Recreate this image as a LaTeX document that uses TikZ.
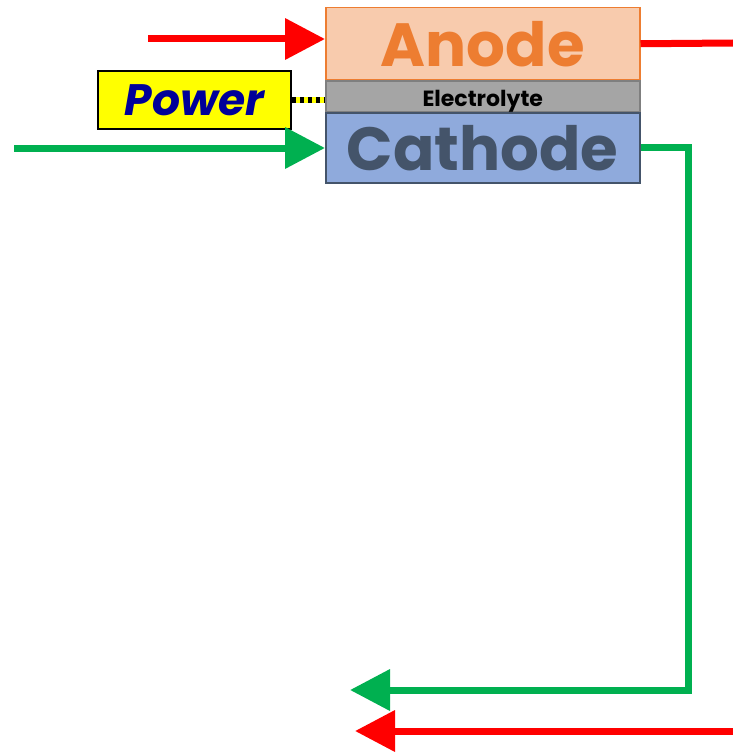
\documentclass[tikz,border=0pt]{standalone}
\usepackage{fontspec}
\setmainfont{Poppins}
\usetikzlibrary{arrows.meta}
\definecolor{anodefill}{HTML}{F8CBAD}
\definecolor{anodeline}{HTML}{ED7D31}
\definecolor{elfill}{HTML}{A5A5A5}
\definecolor{elline}{HTML}{7F7F7F}
\definecolor{catfill}{HTML}{8FAADC}
\definecolor{catline}{HTML}{44546A}
\definecolor{pblue}{HTML}{000099}
\definecolor{gr}{HTML}{00B050}
\definecolor{rd}{HTML}{FF0000}
\definecolor{pyellow}{HTML}{FFFF00}
\begin{document}
\begin{tikzpicture}[x=1pt,y=-1pt,
  layer/.style={draw, line width=1.5pt, inner sep=0pt, minimum width=314pt, anchor=north west},
  flow/.style={line width=7pt},
  tiphead/.style={-{Triangle[length=40pt,width=40pt]}}]
\useasboundingbox (0,0) rectangle (733,752);
\node[layer, fill=anodefill, draw=anodeline, minimum height=72pt, text=anodeline,
  font=\bfseries\fontsize{61}{61}\selectfont] (anode) at (325,7) {Anode};
\node[layer, fill=elfill, draw=elline, minimum height=31pt, text height=24pt, text depth=4pt,
  font=\bfseries\fontsize{22}{22}\selectfont] (elec) at (325,80) {Electrolyte};
\node[layer, fill=catfill, draw=catline, minimum height=70pt, text=catline,
  font=\bfseries\fontsize{61}{61}\selectfont] (cathode) at (325,112) {Cathode};
\node[draw, line width=2pt, fill=pyellow, inner sep=0pt, minimum width=193pt, minimum height=58pt,
  anchor=north west, text=pblue, font=\bfseries\itshape\fontsize{44}{44}\selectfont] (power) at (97,70) {Power};
% dotted link
\draw[pyellow, line width=6pt] (power.east) -- (power.east -| elec.west);
\draw[black, line width=6pt, dash pattern=on 4pt off 4pt] (power.east) -- (power.east -| elec.west);
% red in
\coordinate (rin) at (148,39);
\draw[rd, flow, tiphead] (rin) -- (rin -| anode.west);
% red out
\coordinate (rout) at (733,43);
\draw[rd, flow] (anode.east) -- (rout);
% green in
\coordinate (gin) at (14,148);
\draw[gr, flow, tiphead] (gin) -- (gin -| cathode.west);
% green out
\coordinate (gturn) at (688,690);
\coordinate (gend) at (350,690);
\draw[gr, flow, tiphead] (cathode.east) -- (cathode.east -| gturn) -- (gturn) -- (gend);
% red bottom
\coordinate (rb1) at (733,731);
\coordinate (rb2) at (355,731);
\draw[rd, flow, tiphead] (rb1) -- (rb2);
\end{tikzpicture}
\end{document}
